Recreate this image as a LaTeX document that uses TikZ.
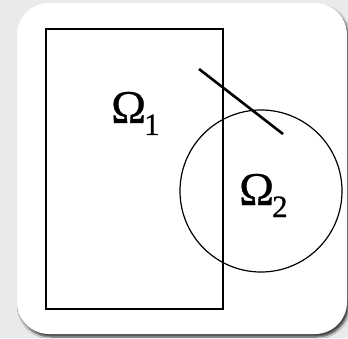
\documentclass[tikz,border=0pt]{standalone}
\usepackage{fontspec}
\setmainfont{Liberation Serif}
\newfontfamily\lblfont[FakeBold=0.6]{Liberation Serif}
\usetikzlibrary{shadows.blur}
\definecolor{bgc}{HTML}{E9EAEC}
\tikzset{
  lbl/.style={inner sep=0pt, anchor=base west, font=\lblfont\fontsize{47}{47}\selectfont},
  outl/.style={draw=black, line width=1.3pt},
}
\newcommand{\omsub}[1]{Ω\kern-2pt\raisebox{-12pt}{\fontsize{31}{31}\selectfont #1}}
\begin{document}
\begin{tikzpicture}[x=1pt,y=1pt]
\fill[bgc] (0,0) rectangle (348,338);
\useasboundingbox (0,0) rectangle (348,338);
\fill[white, rounded corners=32pt, blur shadow={shadow xshift=2pt, shadow yshift=-3pt, shadow blur steps=6, shadow opacity=70}] (17,4) rectangle (347,335);
\draw[outl] (46,29) rectangle (223,309);
\draw[draw=black, line width=1.2pt] (261,147) circle (81);
\coordinate (l1) at (199,269);
\coordinate (l2) at (283,204);
\draw[line width=2.6pt] (l1) -- (l2);
\node[lbl] (o1) at (111,215) {\omsub{1}};
\node[lbl] (o2) at (239,133) {\omsub{2}};
\end{tikzpicture}
\end{document}
